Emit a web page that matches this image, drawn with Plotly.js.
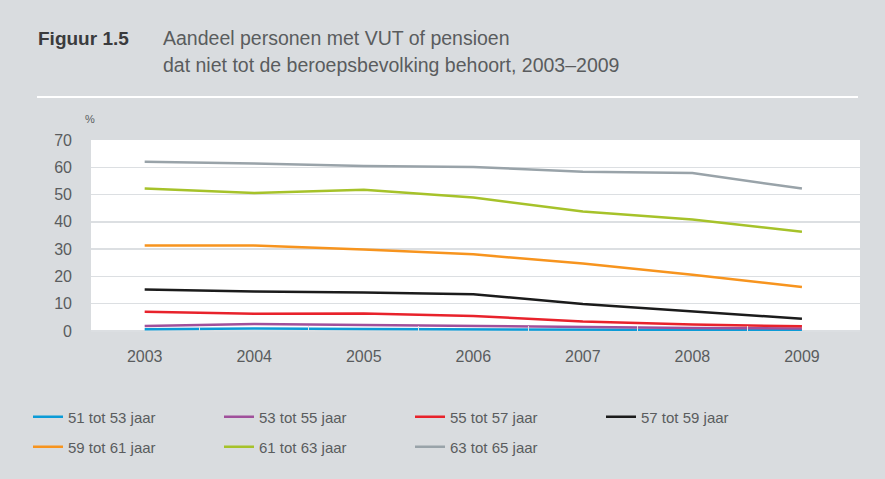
<!DOCTYPE html>
<html><head><meta charset="utf-8">
<script src="https://cdn.plot.ly/plotly-3.0.1.min.js"></script>
<style>html,body{margin:0;padding:0;background:#d9dcdf;}#chart{width:885px;height:479px;}</style>
</head><body><div id="chart"></div>
<script>
const years = [2003, 2004, 2005, 2006, 2007, 2008, 2009];
const names = ['51 tot 53 jaar','53 tot 55 jaar','55 tot 57 jaar','57 tot 59 jaar','59 tot 61 jaar','61 tot 63 jaar','63 tot 65 jaar'];
const s51 = [0.6, 0.9, 0.7, 0.6, 0.5, 0.4, 0.3];
const s53 = [1.8, 2.6, 2.2, 1.8, 1.4, 1.1, 0.9];
const s55 = [7.1, 6.3, 6.4, 5.5, 3.5, 2.4, 1.7];
const s57 = [15.2, 14.5, 14.1, 13.5, 9.9, 7.2, 4.5];
const s59 = [31.3, 31.3, 29.9, 28.1, 24.7, 20.6, 16.1];
const s61 = [52.2, 50.6, 51.8, 48.9, 43.8, 40.9, 36.4];
const s63 = [62.0, 61.4, 60.5, 60.1, 58.4, 57.9, 52.2];
const series = [s51, s53, s55, s57, s59, s61, s63];
const colors = ['#0b9bd7','#a0509b','#e8222b','#1b1b1b','#f7941e','#a6c22a','#99a3a9'];
const halfTicks = [2003.5, 2004.5, 2005.5, 2006.5, 2007.5, 2008.5];

const font = "'Liberation Sans', Arial, sans-serif";
const traces = series.map((s, i) => ({
  x: years, y: s, name: names[i], type: 'scatter', mode: 'lines',
  line: {color: colors[i], width: 2.5},
  legend: i < 4 ? 'legend' : 'legend2'
}));
// invisible trace for half-year tick marks
traces.push({x: [2003.5], y: [null], xaxis: 'x2', showlegend: false, hoverinfo: 'skip', mode: 'lines'});

const L = 91, W = 769, T = 140, H = 191;
const px = v => (v - L) / W;
const py = v => (T + H - v) / H;

const legendBase = {orientation: 'h', x: px(28), xanchor: 'left', yanchor: 'middle',
    bgcolor: 'rgba(0,0,0,0)', font: {family: font, size: 15, color: '#5a5c5e'},
    entrywidth: 146, entrywidthmode: 'pixels', traceorder: 'normal', itemwidth: 30};

const layout = {
  width: 885, height: 479,
  paper_bgcolor: '#d9dcdf', plot_bgcolor: '#ffffff',
  margin: {l: L, r: 885 - L - W, t: T, b: 479 - T - H, autoexpand: false},
  font: {family: font, color: '#5a5c5e', size: 14},
  showlegend: true,
  xaxis: {range: [2002.51, 2009.53], tickvals: years, ticktext: years.map(String),
    showgrid: false, zeroline: false, showline: false, ticks: '', automargin: false,
    tickfont: {family: font, size: 16, color: '#5a5c5e'}, ticklabelstandoff: 14},
  xaxis2: {overlaying: 'x', range: [2002.51, 2009.53], tickvals: halfTicks, showticklabels: false,
    ticks: 'inside', ticklen: 5, tickcolor: '#dfe2e5', tickwidth: 1, showgrid: false, zeroline: false, showline: false},
  yaxis: {range: [0, 70], dtick: 10, tick0: 0, showgrid: true, gridcolor: '#dcdfe2', gridwidth: 1.5,
    zeroline: true, zerolinecolor: '#dcdfe2', zerolinewidth: 1.5, showline: false, ticks: '', automargin: false,
    tickfont: {family: font, size: 16, color: '#5a5c5e'}, ticklabelstandoff: 18},
  legend: Object.assign({}, legendBase, {y: py(417)}),
  legend2: Object.assign({}, legendBase, {y: py(447)}),
  shapes: [
    {type: 'line', xref: 'paper', yref: 'paper', x0: px(37), x1: px(858), y0: py(97), y1: py(97),
     line: {color: '#ffffff', width: 2}}
  ],
  annotations: [
    {xref: 'paper', yref: 'paper', x: px(36), y: py(38), xanchor: 'left', yanchor: 'middle', showarrow: false,
     text: '<b>Figuur 1.5</b>', font: {family: font, size: 19, color: '#3a3b3d'}},
    {xref: 'paper', yref: 'paper', x: px(161), y: py(38), xanchor: 'left', yanchor: 'middle', showarrow: false,
     text: 'Aandeel personen met VUT of pensioen', font: {family: font, size: 19.5, color: '#5a5c5e'}},
    {xref: 'paper', yref: 'paper', x: px(161), y: py(65), xanchor: 'left', yanchor: 'middle', showarrow: false,
     text: 'dat niet tot de beroepsbevolking behoort, 2003–2009', font: {family: font, size: 19.5, color: '#5a5c5e'}},
    {xref: 'paper', yref: 'paper', x: px(83), y: py(119), xanchor: 'left', yanchor: 'middle', showarrow: false,
     text: '%', font: {family: font, size: 11, color: '#5a5c5e'}}
  ]
};
Plotly.newPlot('chart', traces, layout, {displayModeBar: false, staticPlot: true});
</script></body></html>
